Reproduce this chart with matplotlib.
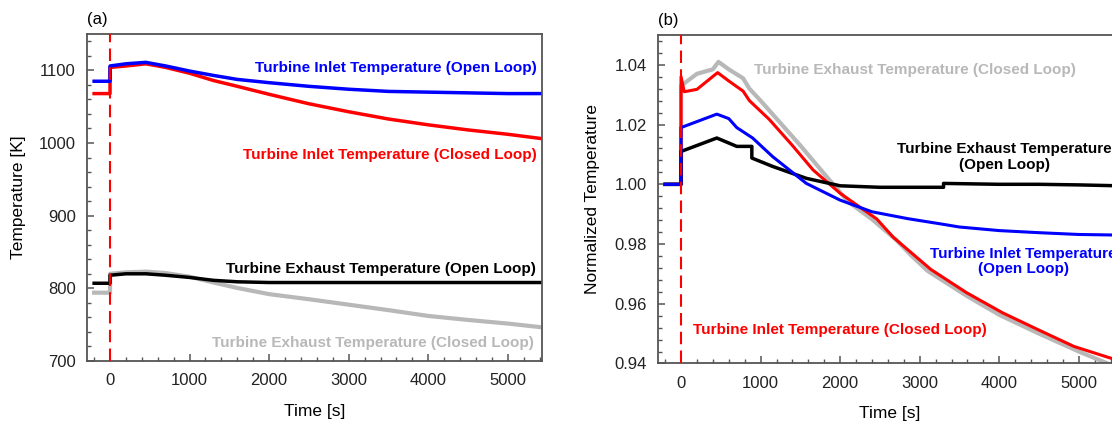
import matplotlib
matplotlib.use("Agg")
import matplotlib.pyplot as plt
from matplotlib.ticker import MultipleLocator

plt.rcParams['font.family'] = ['Liberation Sans', 'DejaVu Sans']

# (a) absolute temperatures [K]
t_a = [-200, 0, 0, 200, 450, 700, 1000, 1300, 1600, 2000, 2500, 3000, 3500, 4000, 4500, 5000, 5500]
tit_open = [1085, 1085, 1106, 1109, 1111, 1106, 1099, 1093, 1087.5, 1083, 1078, 1074, 1071, 1070, 1069, 1068, 1068]
tit_closed = [1068, 1068, 1104, 1106, 1109, 1104, 1096, 1086, 1078, 1067, 1054, 1043, 1033, 1025, 1018, 1012, 1005]
tet_open = [807, 807, 818, 820, 820, 818, 815, 811, 809, 808, 808, 808, 808, 808, 808, 808, 808]
tet_closed = [794, 794, 820, 822, 823, 821, 816, 808, 800.5, 792, 785, 777.5, 770, 762, 756.5, 751.5, 745.5]

# (b) normalized temperatures
gray_t = [-200, 0, 0, 200, 400, 470, 600, 780, 860, 1000, 1200, 1500, 1800, 2100, 2400, 2700, 2900, 3100, 3600, 4000, 4500, 5000, 5500]
gray_v = [1.000, 1.000, 1.033, 1.037, 1.0385, 1.041, 1.0385, 1.0355, 1.032, 1.028, 1.022, 1.013, 1.0035, 0.9942,
          0.9883, 0.9815, 0.976, 0.971, 0.9625, 0.9563, 0.950, 0.944, 0.9385]
red_t = [-200, 0, 0, 40, 200, 460, 600, 780, 860, 1110, 1400, 1660, 2000, 2460, 2670, 2960, 3140, 3590, 4040, 4490, 4940, 5400, 5500]
red_v = [1.000, 1.000, 1.036, 1.031, 1.0318, 1.0374, 1.0346, 1.0312, 1.028, 1.0217, 1.013, 1.0048, 0.997, 0.9884,
         0.9822, 0.9756, 0.9715, 0.9637, 0.957, 0.9513, 0.9457, 0.9418, 0.941]
blue_t = [-200, 0, 0, 200, 450, 600, 700, 900, 1150, 1575, 2000, 2400, 2850, 3250, 3500, 4000, 4500, 5000, 5500]
blue_v = [1.000, 1.000, 1.019, 1.021, 1.0235, 1.022, 1.019, 1.0155, 1.0093, 1.0003, 0.9947, 0.9908, 0.9885, 0.9868,
          0.9857, 0.9845, 0.9838, 0.9832, 0.983]
black_t = [-200, 0, 0, 200, 450, 700, 890, 890, 1150, 1575, 2000, 2500, 3300, 3300, 4000, 4500, 5000, 5500]
black_v = [1.000, 1.000, 1.011, 1.013, 1.0155, 1.0127, 1.0127, 1.0088, 1.006, 1.002, 0.9995, 0.999, 0.999, 1.0003,
           1.0, 1.0, 0.9998, 0.9995]

BLUE, RED, BLACK, GRAY = '#0000ff', '#ff0000', '#000000', '#b8b8b8'
SPINE = '#555555'

fig = plt.figure(figsize=(11.12, 4.24), dpi=100)
ax1 = fig.add_axes([0.0782, 0.1486, 0.4092, 0.7712])
ax2 = fig.add_axes([0.5917, 0.1427, 0.4092, 0.7748])


def style(ax):
    for s in ax.spines.values():
        s.set_color(SPINE)
        s.set_linewidth(1.3)
    ax.tick_params(which='both', direction='in', color=SPINE, labelsize=12, labelcolor='#222222')
    ax.tick_params(which='major', length=5, width=1.1)
    ax.tick_params(which='minor', length=3, width=1.0)
    ax.tick_params(axis='x', pad=9)
    ax.tick_params(axis='y', pad=8)
    ax.set_xlim(-290, 5430)
    ax.xaxis.set_major_locator(MultipleLocator(1000))
    ax.xaxis.set_minor_locator(MultipleLocator(200))
    ax.axvline(0, color=RED, lw=1.5, ls=(0, (6, 3)), zorder=5)
    ax.set_xlabel('Time [s]', fontsize=12.5)


# ---- (a)
style(ax1)
ax1.plot(t_a, tet_closed, color=GRAY, lw=3)
ax1.plot(t_a, tet_open, color=BLACK, lw=2.5)
ax1.plot(t_a, tit_closed, color=RED, lw=2.5)
ax1.plot(t_a, tit_open, color=BLUE, lw=2.5)
ax1.set_ylim(700, 1150)
ax1.yaxis.set_major_locator(MultipleLocator(100))
ax1.yaxis.set_minor_locator(MultipleLocator(20))
ax1.set_ylabel('Temperature [K]', fontsize=12.5)
ax1.yaxis.set_label_coords(-0.135, 0.5)
ax1.xaxis.set_label_coords(0.5, -0.13)
ax1.text(0, 1.045, '(a)', transform=ax1.transAxes, fontsize=12, va='center', ha='left')

kw = dict(fontsize=11, fontweight='bold', va='center')
ax1.text(5370, 1103, 'Turbine Inlet Temperature (Open Loop)', color=BLUE, ha='right', **kw)
ax1.text(5370, 984, 'Turbine Inlet Temperature (Closed Loop)', color=RED, ha='right', **kw)
ax1.text(5348, 827, 'Turbine Exhaust Temperature (Open Loop)', color=BLACK, ha='right', **kw)
ax1.text(5327, 725, 'Turbine Exhaust Temperature (Closed Loop)', color=GRAY, ha='right', **kw)

# ---- (b)
style(ax2)
ax2.plot(gray_t, gray_v, color=GRAY, lw=3)
ax2.plot(red_t, red_v, color=RED, lw=2.2)
ax2.plot(black_t, black_v, color=BLACK, lw=2.5)
ax2.plot(blue_t, blue_v, color=BLUE, lw=2.2)
ax2.set_ylim(0.94, 1.05)
ax2.yaxis.set_major_locator(MultipleLocator(0.02))
ax2.yaxis.set_minor_locator(MultipleLocator(0.004))
ax2.yaxis.set_major_formatter(matplotlib.ticker.FormatStrFormatter('%.2f'))
ax2.set_ylabel('Normalized Temperature', fontsize=12.5)
ax2.yaxis.set_label_coords(-0.127, 0.5)
ax2.xaxis.set_label_coords(0.51, -0.128)
ax2.text(0, 1.045, '(b)', transform=ax2.transAxes, fontsize=12, va='center', ha='left')

ax2.text(923, 1.0382, 'Turbine Exhaust Temperature (Closed Loop)', color=GRAY, ha='left', **kw)
ax2.text(4066, 1.0091, 'Turbine Exhaust Temperature\n(Open Loop)', color=BLACK, ha='center',
         multialignment='center', linespacing=1.15, **kw)
ax2.text(4307, 0.9741, 'Turbine Inlet Temperature\n(Open Loop)', color=BLUE, ha='center',
         multialignment='center', linespacing=1.15, **kw)
ax2.text(149, 0.9512, 'Turbine Inlet Temperature (Closed Loop)', color=RED, ha='left', **kw)

fig.savefig('out.png', dpi=100)
